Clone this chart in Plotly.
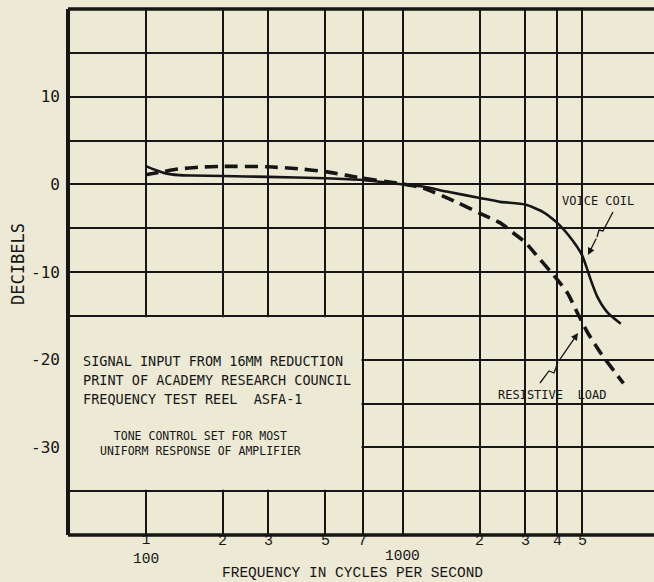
import numpy as np
import plotly.graph_objects as go

# ---------------- data ----------------
vc_freq = [100, 110, 120, 135, 150, 200, 300, 500, 700, 1000, 1200, 1500, 2000,
           2400, 3000, 3500, 4000, 4575, 5000, 5200, 5400, 5725, 6270, 7070]
vc_db = [2.1, 1.6, 1.25, 1.05, 1.0, 0.95, 0.85, 0.7, 0.5, 0.0, -0.25, -0.85, -1.55,
         -2.0, -2.3, -3.1, -4.4, -6.35, -8.1, -9.45, -10.9, -12.8, -14.6, -15.9]

rl_freq = [100, 115, 130, 160, 200, 300, 400, 500, 600, 700, 1000, 1200, 1640,
           2000, 2400, 2700, 3010, 3236, 4010, 4385, 4800, 5250, 5890, 7240]
rl_db = [1.1, 1.4, 1.7, 1.95, 2.05, 2.0, 1.75, 1.45, 1.05, 0.7, 0.05, -0.4, -2.1,
         -3.3, -4.4, -5.55, -6.65, -7.7, -10.9, -12.4, -14.7, -16.9, -19.2, -22.7]

x_grid = [100, 200, 300, 500, 700, 1000, 2000, 3000, 4000, 5000]
x_tick_text = ["1", "2", "3", "5", "7", "", "2", "3", "4", "5"]
x_decade_vals = [100, 1000]
x_decade_text = ["100", "1000"]

y_grid = [-35, -30, -25, -20, -15, -10, -5, 0, 5, 10, 15]
y_label_vals = [10, 0, -10, -20, -30]
y_label_text = ["10", "0", "-10", "-20", "-30"]

note_lines = ["SIGNAL INPUT FROM 16MM REDUCTION",
              "PRINT OF ACADEMY RESEARCH COUNCIL",
              "FREQUENCY TEST REEL\u00a0\u00a0ASFA-1"]
note2_text = "TONE CONTROL SET FOR MOST<br>UNIFORM RESPONSE OF AMPLIFIER"

# ---------------- layout constants ----------------
W, H = 654, 582
ML, MR, MT, MB = 68, 0, 9, 47
PW, PH = W - ML - MR, H - MT - MB
BG = "#ece9d4"
INK = "#161616"


def px(xp):
    return (xp - ML) / PW


def py(yp):
    return (H - MB - yp) / PH


fig = go.Figure()

fig.add_trace(go.Scatter(x=vc_freq, y=vc_db, mode="lines",
                         line=dict(color=INK, width=2.6, shape="spline", smoothing=0.6),
                         showlegend=False, hoverinfo="skip"))
fig.add_trace(go.Scatter(x=rl_freq, y=rl_db, mode="lines",
                         line=dict(color=INK, width=3.6, dash="13px,7px", shape="spline", smoothing=0.6),
                         showlegend=False, hoverinfo="skip"))

# leader lines (squiggles) for the curve labels
vc_leader = [(3.819, -3.16), (3.780, -5.32), (3.7646, -5.21), (3.7568, -6.01)]
vc_tip = (3.7218, -8.06)
rl_leader = [(3.535, -22.66), (3.570, -21.29), (3.5895, -21.52), (3.605, -20.27)]
rl_tip = (3.683, -16.96)
for pts in (vc_leader, rl_leader):
    fig.add_trace(go.Scatter(x=[10 ** p[0] for p in pts], y=[p[1] for p in pts],
                             mode="lines", line=dict(color=INK, width=1.3),
                             showlegend=False, hoverinfo="skip"))
for pts, tip in ((vc_leader, vc_tip), (rl_leader, rl_tip)):
    fig.add_annotation(x=tip[0], y=tip[1], ax=pts[-1][0], ay=pts[-1][1],
                       xref="x", yref="y", axref="x", ayref="y", text="",
                       showarrow=True, arrowhead=2, arrowsize=1.1, arrowwidth=1.3,
                       arrowcolor=INK, standoff=0)

lab_font = dict(family="DejaVu Sans Mono", size=12, color=INK)
fig.add_annotation(x=3.761, y=-1.9, xref="x", yref="y", text="VOICE COIL",
                   showarrow=False, font=lab_font, xanchor="center", yanchor="middle")
fig.add_annotation(x=3.580, y=-24.0, xref="x", yref="y", text="RESISTIVE\u00a0\u00a0LOAD",
                   showarrow=False, font=lab_font, xanchor="center", yanchor="middle")

# blank panel behind the note (grid interrupted in the original)
fig.add_shape(type="rect", xref="paper", yref="y", x0=0, x1=px(361.5), y0=-34.85, y1=-15.15,
              fillcolor=BG, line=dict(width=0), layer="above")

note_font = dict(family="DejaVu Sans Mono", size=13.5, color=INK)
for txt, yy in zip(note_lines, [360.5, 379.5, 398.5]):
    fig.add_annotation(x=px(81), y=py(yy), xref="paper", yref="paper", text=txt,
                       showarrow=False, font=note_font, xanchor="left", yanchor="middle")
fig.add_annotation(x=px(200), y=py(443), xref="paper", yref="paper", text=note2_text,
                   showarrow=False, align="center",
                   font=dict(family="DejaVu Sans Mono", size=11.5, color=INK),
                   xanchor="center", yanchor="middle")

# x tick labels (the 100 label carries its "1" above it)
tick_font = dict(family="Liberation Mono", size=14.5, color=INK)
decade_map = dict(zip(x_decade_vals, x_decade_text))
for v, t in zip(x_grid, x_tick_text):
    if v in decade_map and t:
        fig.add_annotation(x=np.log10(v), y=py(549), xref="x", yref="paper",
                           text=t + "<br>" + decade_map[v], showarrow=False, borderpad=0,
                           font=tick_font, xanchor="center", yanchor="middle")
    elif v in decade_map:
        fig.add_annotation(x=np.log10(v), y=py(556), xref="x", yref="paper",
                           text=decade_map[v], showarrow=False, borderpad=0,
                           font=tick_font, xanchor="center", yanchor="middle")
    elif t:
        fig.add_annotation(x=np.log10(v), y=py(541), xref="x", yref="paper", text=t,
                           showarrow=False, borderpad=0,
                           font=dict(family="Liberation Mono", size=15, color=INK),
                           xanchor="center", yanchor="middle")

# axis titles
fig.add_annotation(x=px(352), y=py(572.5), xref="paper", yref="paper",
                   text="FREQUENCY IN CYCLES PER SECOND", showarrow=False, borderpad=0,
                   font=dict(family="Liberation Mono", size=14.5, color=INK),
                   xanchor="center", yanchor="middle")
fig.add_annotation(x=px(18), y=py(264), xref="paper", yref="paper", text="DECIBELS",
                   textangle=-90, showarrow=False,
                   font=dict(family="DejaVu Sans Mono", size=17, color=INK),
                   xanchor="center", yanchor="middle")

# frame (left, top, bottom)
for x0, y0, x1, y1, w in ((0, 0, 0, 1, 4), (0, 1, 1, 1, 3.5), (0, 0, 1, 0, 3.5)):
    fig.add_shape(type="line", xref="paper", yref="paper", x0=x0, y0=y0, x1=x1, y1=y1,
                  line=dict(color=INK, width=w), layer="above")

y_text = [dict(zip(y_label_vals, y_label_text)).get(v, "") for v in y_grid]

fig.update_layout(
    width=W, height=H, autosize=False,
    margin=dict(l=ML, r=MR, t=MT, b=MB, pad=0),
    paper_bgcolor=BG, plot_bgcolor=BG,
    showlegend=False,
    xaxis=dict(type="log", range=[1.6984, 3.9786], tickvals=x_grid, showticklabels=False,
               showgrid=True, gridcolor=INK, gridwidth=1.7, zeroline=False,
               showline=False, ticks="", fixedrange=True),
    yaxis=dict(range=[-40, 20], tickvals=y_grid, ticktext=y_text,
               showgrid=True, gridcolor=INK, gridwidth=1.7, zeroline=False,
               showline=False, ticks="", ticklabelstandoff=7,
               tickfont=dict(family="DejaVu Sans Mono", size=16, color=INK),
               fixedrange=True),
)

fig.write_html("out.html")
